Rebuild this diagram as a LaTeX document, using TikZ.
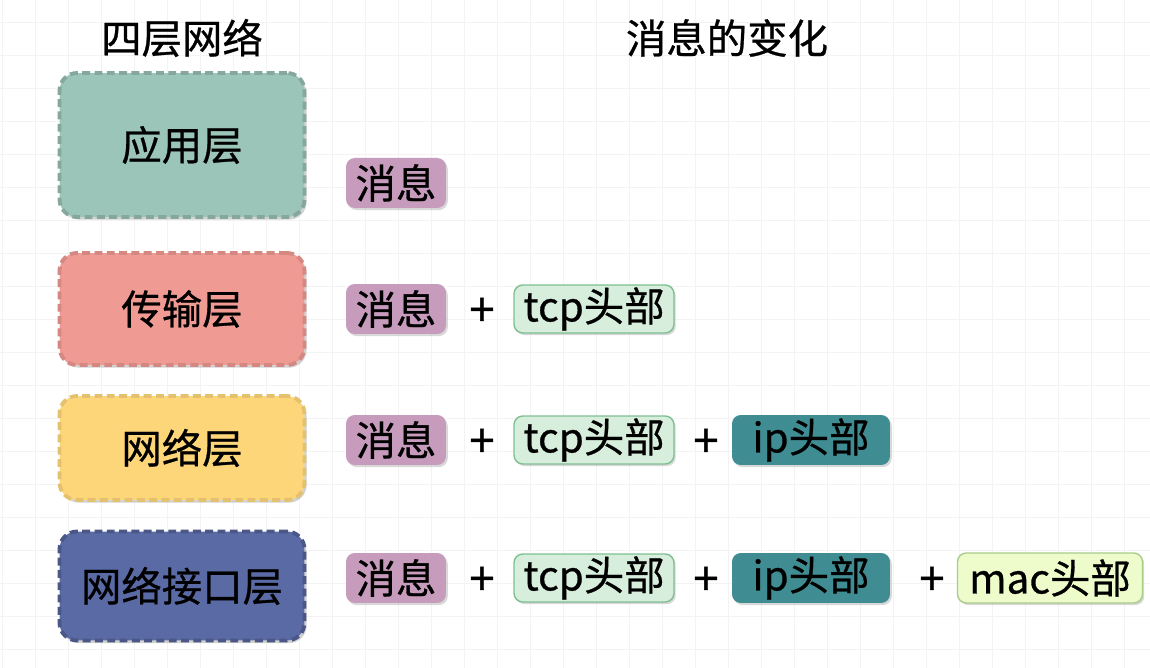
\documentclass[tikz,border=0pt]{standalone}
\usepackage{fontspec}
\setmainfont{Noto Sans CJK SC}[FakeBold=0.7]
\usetikzlibrary{shadows}
\definecolor{appc}{HTML}{9CC5BA}
\definecolor{tranc}{HTML}{F09A94}
\definecolor{netc}{HTML}{FDD67A}
\definecolor{ifc}{HTML}{5A6AA5}
\definecolor{msgc}{HTML}{C79BBC}
\definecolor{tcpc}{HTML}{D7EEDC}
\definecolor{tcpb}{HTML}{7DBF91}
\definecolor{ipc}{HTML}{3F8C93}
\definecolor{macc}{HTML}{EEFBCB}
\definecolor{macb}{HTML}{A9CB8C}
\definecolor{gridc}{HTML}{F3F3F3}
\tikzset{
  txt/.style={font=\fontsize{23}{27}\selectfont, text=black, inner sep=0pt},
  layer/.style={txt, rounded corners=10pt, minimum width=4.9cm, line width=2.2pt,
    dash pattern=on 4.5pt off 2.5pt, drop shadow={shadow xshift=1.2pt, shadow yshift=-1.5pt, opacity=0.35}},
  tag/.style={txt, rounded corners=5pt, minimum height=1.0cm,
    drop shadow={shadow xshift=1pt, shadow yshift=-1.2pt, opacity=0.3}},
  plus/.style={txt, font=\fontsize{26}{30}\selectfont},
}
\begin{document}
\begin{tikzpicture}[x=0.02cm, y=-0.02cm]
\useasboundingbox (0,0) rectangle (1150,668);
\fill[white] (0,0) rectangle (1150,668);
\foreach \i in {0,...,35} { \draw[gridc, line width=0.5pt] (\i*33+2,0) -- (\i*33+2,668); }
\foreach \j in {0,...,20} { \draw[gridc, line width=0.5pt] (0,\j*33+22) -- (1150,\j*33+22); }

\node[txt] (t1) at (182,38) {四层网络};
\node[txt] (t2) at (727,38) {消息的变化};

\node[layer, fill=appc, draw=appc!85!black, minimum height=2.88cm] (app) at (182,145) {应用层};
\node[layer, fill=tranc, draw=tranc!88!black, minimum height=2.24cm] (tran) at (182,309) {传输层};
\node[layer, fill=netc, draw=netc!90!black, minimum height=2.08cm] (net) at (182,448) {网络层};
\node[layer, fill=ifc, draw=ifc!82!black, minimum height=2.18cm] (if) at (182,586) {网络接口层};

% row 1
\node[tag, fill=msgc, minimum width=2.0cm] (m1) at (396,183) {消息};
% row 2
\node[tag, fill=msgc, minimum width=2.0cm] (m2) at (396,309) {消息};
\node[plus] (p21) at (482,312) {+};
\node[tag, fill=tcpc, draw=tcpb, line width=0.8pt, minimum width=3.2cm, minimum height=0.96cm] (tcp2) at (594,309) {tcp头部};
% row 3
\node[tag, fill=msgc, minimum width=2.0cm] (m3) at (396,440) {消息};
\node[plus] (p31) at (482,443) {+};
\node[tag, fill=tcpc, draw=tcpb, line width=0.8pt, minimum width=3.2cm, minimum height=0.96cm] (tcp3) at (594,440) {tcp头部};
\node[plus] (p32) at (706,443) {+};
\node[tag, fill=ipc, minimum width=3.16cm] (ip3) at (811,440) {ip头部};
% row 4
\node[tag, fill=msgc, minimum width=2.0cm] (m4) at (396,578) {消息};
\node[plus] (p41) at (482,581) {+};
\node[tag, fill=tcpc, draw=tcpb, line width=0.8pt, minimum width=3.2cm, minimum height=0.96cm] (tcp4) at (594,578) {tcp头部};
\node[plus] (p42) at (706,581) {+};
\node[tag, fill=ipc, minimum width=3.16cm] (ip4) at (811,578) {ip头部};
\node[plus] (p43) at (932,581) {+};
\node[tag, fill=macc, draw=macb, line width=0.8pt, minimum width=3.7cm] (mac4) at (1050,578) {mac头部};
\end{tikzpicture}
\end{document}
